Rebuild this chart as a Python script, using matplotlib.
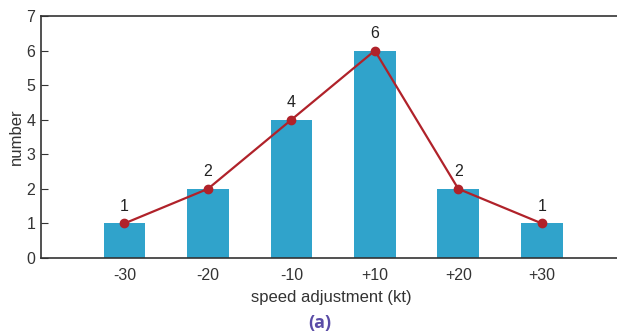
import matplotlib.pyplot as plt

plt.rcParams['font.family'] = ['Liberation Sans', 'DejaVu Sans']

# speed adjustment categories and counts
speeds = ['-30', '-20', '-10', '+10', '+20', '+30']
counts = [1, 2, 4, 6, 2, 1]

bar_color = '#30a3cb'
line_color = '#b0222a'

fig = plt.figure(figsize=(6.17, 3.35), dpi=100)
ax = fig.add_axes([0.0665, 0.23, 0.94, 0.722])

x = list(range(len(speeds)))
ax.bar(x, counts, width=0.5, color=bar_color, zorder=1)
ax.plot(x, counts, color=line_color, lw=1.6, marker='o', ms=6, zorder=3)
for xi, c in zip(x, counts):
    ax.annotate(str(c), (xi, c), xytext=(0, 7), textcoords='offset points',
                ha='center', va='bottom', fontsize=11.5, color='#222222')

ax.set_xlim(-1, 5.95)
ax.set_ylim(0, 7)
ax.set_xticks(x)
ax.set_xticklabels(speeds)
ax.set_yticks(range(8))
ax.tick_params(axis='x', length=0, pad=7, labelsize=11.5, colors='#333333')
ax.tick_params(axis='y', direction='in', length=5, labelsize=11.5, colors='#333333', pad=4)
for side in ['left', 'top', 'bottom']:
    ax.spines[side].set_color('#333333')
    ax.spines[side].set_linewidth(1.2)
ax.spines['right'].set_visible(False)

ax.set_xlabel('speed adjustment (kt)', fontsize=12, color='#333333', labelpad=5)
ax.set_ylabel('number', fontsize=12, color='#333333', labelpad=2)

fig.text(0.519, 0.035, '(a)', ha='center', va='center', fontsize=13,
         fontweight='bold', color='#5a4ca6', family='Open Sans')

fig.savefig('out.png', dpi=100)
